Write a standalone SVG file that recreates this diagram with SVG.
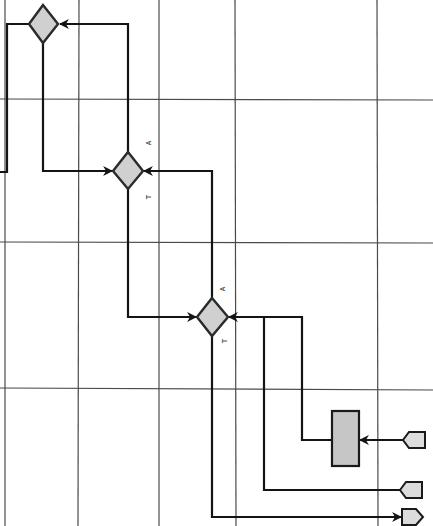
<svg xmlns="http://www.w3.org/2000/svg" width="433" height="526" viewBox="0 0 433 526">
<defs>
<style>
.grid{stroke:#4a4a4a;stroke-width:1.2;fill:none}
.conn{stroke:#141414;stroke-width:2.2;fill:none}
.dia{fill:#d0d0d0;stroke:#2a2a2a;stroke-width:2.4}
.blk{fill:#c6c6c6;stroke:#1a1a1a;stroke-width:2.2}
.tag{fill:#dcdcdc;stroke:#1a1a1a;stroke-width:2}
.lbl{font-family:"Liberation Sans",Arial,sans-serif;font-size:7px;font-weight:bold;fill:#555}
</style>
<marker id="arr" viewBox="0 0 10 10" refX="9" refY="5" markerWidth="4.5" markerHeight="4.5" orient="auto" markerUnits="strokeWidth">
<path d="M0,0 L10,5 L0,10 L3,5 Z" fill="#141414"/>
</marker>
</defs>
<rect width="433" height="526" fill="#fff"/>
<g id="grid">
<line class="grid" x1="5" y1="0" x2="5" y2="526"/>
<line class="grid" x1="79" y1="0" x2="78" y2="526"/>
<line class="grid" x1="159" y1="0" x2="159" y2="526"/>
<line class="grid" x1="235" y1="0" x2="236" y2="526"/>
<line class="grid" x1="377" y1="0" x2="378" y2="526"/>
<line class="grid" x1="0" y1="99" x2="433" y2="100"/>
<line class="grid" x1="0" y1="242" x2="433" y2="243"/>
<line class="grid" x1="0" y1="388" x2="433" y2="390"/>
</g>
<g id="connectors">
<path class="conn" d="M0,172 H7 V24 H29"/>
<path class="conn" d="M128,152 V24 H60" marker-end="url(#arr)"/>
<path class="conn" d="M43,43 V171 H112" marker-end="url(#arr)"/>
<path class="conn" d="M212,298 V171 H144" marker-end="url(#arr)"/>
<path class="conn" d="M128,188 V317 H196" marker-end="url(#arr)"/>
<path class="conn" d="M332,440 H302 V317 H229" marker-end="url(#arr)"/>
<path class="conn" d="M400,490 H264 V317"/>
<path class="conn" d="M212,336 V517 H401" marker-end="url(#arr)"/>
<path class="conn" d="M403,440 H360" marker-end="url(#arr)"/>
</g>
<g id="diamond1"><polygon class="dia" points="43,5 58,24 43,43 29,24"/></g>
<g id="diamond2">
<polygon class="dia" points="128,152 143,171 128,189 113,171"/>
<text class="lbl" transform="translate(151,143) rotate(-90)" text-anchor="middle">A</text>
<text class="lbl" transform="translate(151,197) rotate(-90)" text-anchor="middle">T</text>
</g>
<g id="diamond3">
<polygon class="dia" points="212,298 228,317 212,336 197,317"/>
<text class="lbl" transform="translate(225,289) rotate(-90)" text-anchor="middle">A</text>
<text class="lbl" transform="translate(227,341) rotate(-90)" text-anchor="middle">T</text>
</g>
<g id="block"><rect class="blk" x="332" y="411" width="27" height="55"/></g>
<g id="tag1"><polygon class="tag" points="403,440 409,432 425,432 425,448 409,448"/></g>
<g id="tag2"><polygon class="tag" points="400,490 406,482 422,482 422,498 406,498"/></g>
<g id="tag3"><polygon class="tag" points="402,509 416,509 423,517 416,525 402,525"/></g>
</svg>
